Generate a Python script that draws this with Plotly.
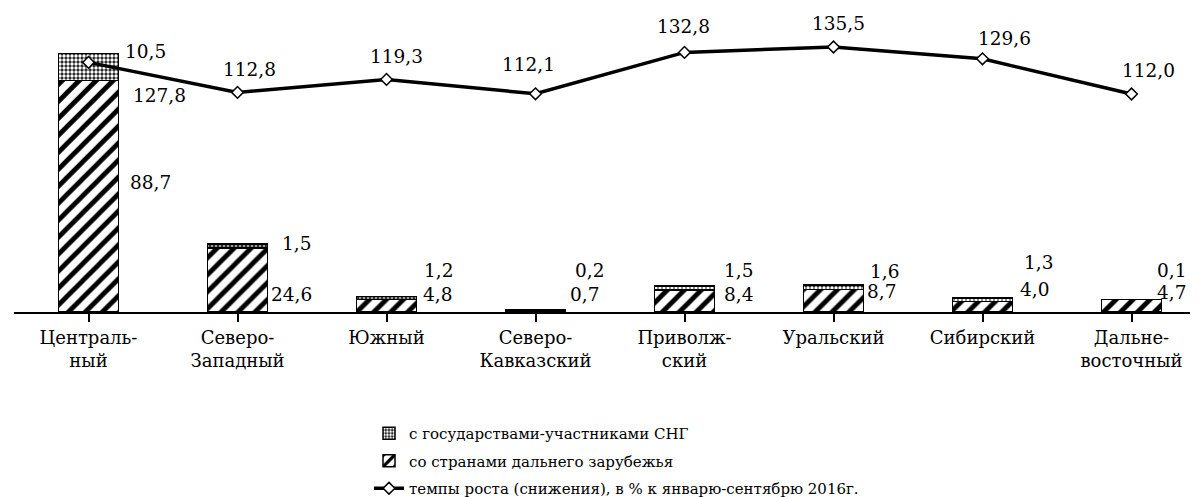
import plotly.graph_objects as go

categories = ["Централь-<br>ный", "Северо-<br>Западный", "Южный", "Северо-<br>Кавказский",
              "Приволж-<br>ский", "Уральский", "Сибирский", "Дальне-<br>восточный"]
far_abroad = [88.7, 24.6, 4.8, 0.7, 8.4, 8.7, 4.0, 4.7]
cis = [10.5, 1.5, 1.2, 0.2, 1.5, 1.6, 1.3, 0.1]
growth = [127.8, 112.8, 119.3, 112.1, 132.8, 135.5, 129.6, 112.0]

def fmt(v):
    return f"{v:.1f}".replace(".", ",")

# label placement (styling only)
far_lab_y = [49.6, 6.7, 6.7, 6.7, 6.7, 7.8, 8.6, 7.6]
far_lab_dx = [10, 2, 5, 3, 8, 2, 6, -6]
cis_lab_y = [99.7, 26.2, 15.9, 15.9, 15.9, 15.5, 18.9, 15.9]
cis_lab_dx = [5, 13, 6, 8, 8, 5, 10, -6]
gr_dx = [42, 12, 10, -7, -1, 5, 22, 17]
gr_dy = [-33, 23, 23, 29, 26, 24, 20, 24]

FONT = "'DejaVu Serif', 'Liberation Serif', serif"
x_idx = list(range(len(categories)))
BW = 0.4

fig = go.Figure()
fig.add_trace(go.Bar(
    x=x_idx, y=far_abroad, name="со странами дальнего зарубежья", width=BW,
    marker=dict(color="white", line=dict(color="black", width=1.5),
                pattern=dict(shape="/", fgcolor="black", bgcolor="white", fgopacity=1,
                             size=12, solidity=0.4)),
    legendrank=2, legendgroup="b", yaxis="y"))
fig.add_trace(go.Bar(
    x=x_idx, y=cis, name="с государствами-участниками СНГ", width=BW,
    marker=dict(color="white", line=dict(color="black", width=1.5),
                pattern=dict(shape=".", fgcolor="white", bgcolor="#1a1a1a", fgopacity=1,
                             size=4, solidity=0.55)),
    legendrank=1, legendgroup="a", yaxis="y"))
fig.add_trace(go.Scatter(
    x=x_idx, y=growth, name="темпы роста (снижения), в % к январю-сентябрю 2016г.",
    mode="lines+markers", line=dict(color="black", width=3.5),
    marker=dict(symbol="diamond", size=9, color="white", line=dict(color="black", width=1.5)),
    legendrank=3, legendgroup="c", yaxis="y2"))

ann = []
for i in x_idx:
    ann.append(dict(x=i + BW / 2, y=far_lab_y[i], xref="x", yref="y", text=fmt(far_abroad[i]),
                    showarrow=False, xanchor="left", yanchor="middle", xshift=far_lab_dx[i],
                    font=dict(family=FONT, size=18.5, color="black")))
    ann.append(dict(x=i + BW / 2, y=cis_lab_y[i], xref="x", yref="y", text=fmt(cis[i]),
                    showarrow=False, xanchor="left", yanchor="middle", xshift=cis_lab_dx[i],
                    font=dict(family=FONT, size=18.5, color="black")))
    ann.append(dict(x=i, y=growth[i], xref="x", yref="y2", text=fmt(growth[i]),
                    showarrow=False, xanchor="left" if i == 0 else "center", yanchor="middle",
                    xshift=gr_dx[i], yshift=gr_dy[i],
                    font=dict(family=FONT, size=18.5, color="black")))

fig.update_layout(
    width=1198, height=497,
    margin=dict(l=6, r=0, t=2, b=192.5, autoexpand=False),
    paper_bgcolor="white", plot_bgcolor="white",
    barmode="stack",
    showlegend=True,
    font=dict(family=FONT, color="black"),
    legend=dict(xref="container", yref="container", x=361 / 1198, y=(497 - 409) / 497,
                xanchor="left", yanchor="top", traceorder="grouped",
                tracegroupgap=5, font=dict(family=FONT, size=15, color="black")),
    xaxis=dict(range=[-0.5, 7.5], tickmode="array", tickvals=x_idx, ticktext=categories,
               automargin=False,
               showline=True, linecolor="black", linewidth=2, ticks="outside", ticklen=8,
               tickcolor="black", tickwidth=2, showgrid=False, zeroline=False,
               tickfont=dict(family=FONT, size=18, color="black")),
    yaxis=dict(range=[0, 115.8], visible=False, showgrid=False, zeroline=False),
    yaxis2=dict(range=[3, 154], overlaying="y", visible=False, showgrid=False, zeroline=False),
    annotations=ann,
)
fig.write_html("out.html")
